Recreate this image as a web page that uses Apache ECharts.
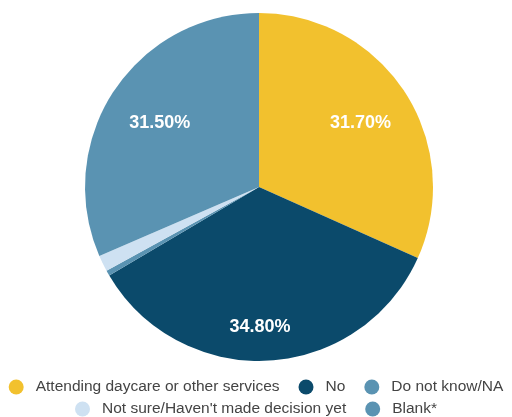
<!DOCTYPE html>
<html>
<head>
<meta charset="utf-8">
<script src="https://cdn.jsdelivr.net/npm/echarts@6/dist/echarts.min.js"></script>
<style>
  html, body { margin: 0; padding: 0; background: #fff; }
  #chart { width: 512px; height: 417px; }
</style>
</head>
<body>
<div id="chart"></div>
<script>
// Response categories and their shares (percent)
const categories = [
  'Attending daycare or other services',
  'No',
  'Do not know/NA',
  "Not sure/Haven't made decision yet",
  'Blank*'
];
const shares = [31.7, 34.8, 0.5, 1.5, 31.5];
const colors = ['#F2C12E', '#0B4A6B', '#5A93B2', '#CEE1F2', '#5A93B2'];

// Only the three large slices carry a label; small nudges place them inside
const labelShown = [true, true, false, false, true];
const labelOffsets = [[26, -15], [-4, 50], [0, 0], [0, 0], [-24, -15]];

const data = categories.map((name, i) => ({
  name,
  value: shares[i],
  itemStyle: { color: colors[i] },
  label: { show: labelShown[i], offset: labelOffsets[i] }
}));

const legendText = { fontFamily: 'Liberation Sans, Arial, sans-serif', fontSize: 15.5, color: '#444' };

const chart = echarts.init(document.getElementById('chart'));
chart.setOption({
  animation: false,
  legend: [
    {
      data: categories.slice(0, 3),
      left: 'center', top: 374,
      icon: 'circle', itemWidth: 29, itemHeight: 15, itemGap: 19,
      textStyle: legendText
    },
    {
      data: categories.slice(3),
      left: 'center', top: 396,
      icon: 'circle', itemWidth: 29, itemHeight: 15, itemGap: 19,
      textStyle: legendText
    }
  ],
  series: [{
    type: 'pie',
    center: [259, 187],
    radius: 174,
    startAngle: 90,
    clockwise: true,
    data,
    label: {
      position: 'inside',
      formatter: p => p.value.toFixed(2) + '%',
      color: '#fff',
      fontFamily: 'Liberation Sans, Arial, sans-serif',
      fontWeight: 'bold',
      fontSize: 18
    },
    labelLine: { show: false },
    itemStyle: { borderWidth: 0 },
    emphasis: { disabled: true }
  }]
});
</script>
</body>
</html>
